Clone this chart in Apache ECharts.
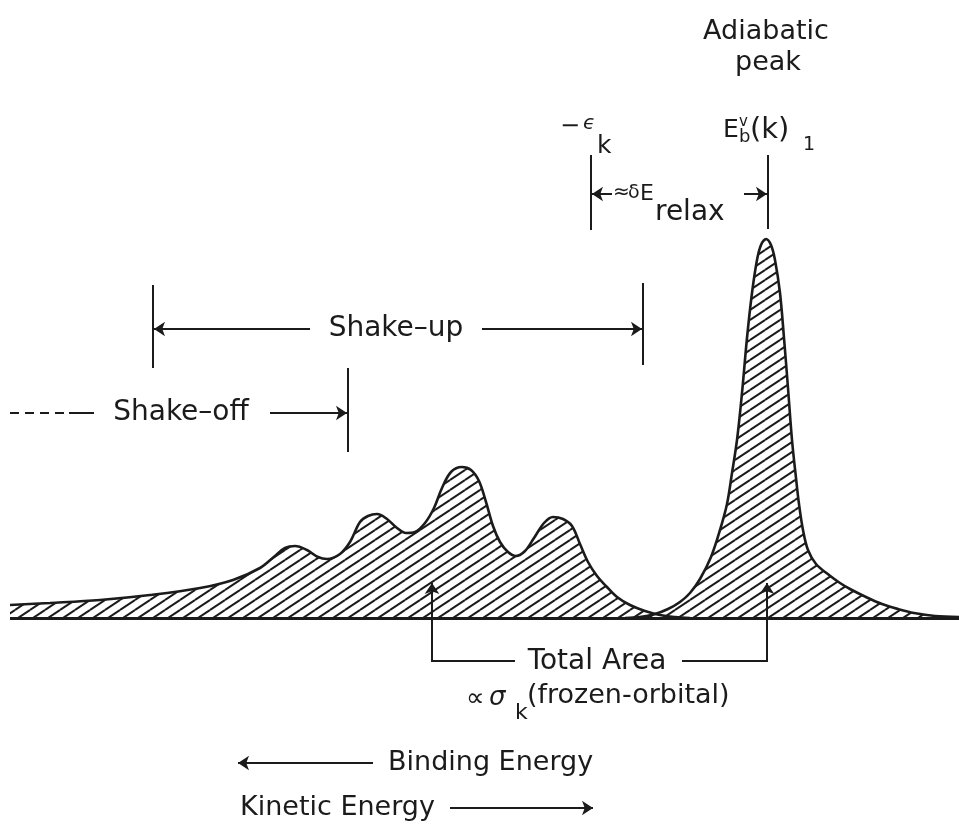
<!DOCTYPE html>
<html>
<head>
<meta charset="utf-8">
<script src="https://cdn.jsdelivr.net/npm/echarts@6/dist/echarts.min.js"></script>
<style>
  html, body { margin: 0; padding: 0; background: #ffffff; }
  #chart { width: 959px; height: 825px; }
</style>
</head>
<body>
<div id="chart"></div>
<script>
// Core-level photoemission line shape: shake-off tail + shake-up satellites,
// followed by the adiabatic (main) peak. Pairs are [energy position, intensity].
const satelliteEnvelope = [
  [10, 13], [50, 15], [100, 18], [150, 23], [200, 30], [233, 38], [260, 50],
  [275, 62], [285, 70], [295, 72], [307, 68], [318, 61], [327, 59], [340, 64],
  [350, 76], [360, 96], [368, 102], [377, 104], [387, 99], [397, 90], [406, 85],
  [415, 86], [425, 95], [434, 110], [442, 130], [451, 146], [462, 151], [471, 148],
  [479, 137], [486, 116], [493, 92], [500, 76], [508, 66], [516, 62], [525, 67],
  [534, 80], [544, 95], [553, 101], [563, 99], [572, 92], [580, 74], [588, 56],
  [597, 42], [606, 32], [617, 21], [630, 13], [645, 7], [660, 3], [675, 1], [690, 0]
];

const adiabaticPeak = [
  [625, 0], [640, 1], [655, 4], [668, 9], [680, 16], [690, 25], [700, 39],
  [711, 61], [720, 88], [727, 114], [732, 145], [737, 178], [742, 225], [747, 280],
  [752, 325], [757, 358], [761, 373], [766, 379], [771, 373], [775, 358], [780, 325],
  [784, 280], [788, 230], [792, 178], [796, 140], [799, 114], [803, 88], [808, 68],
  [816, 54], [829, 43], [840, 35], [850, 29], [866, 21], [882, 14], [898, 9],
  [914, 5], [935, 2], [959, 1]
];

// Energy positions of the marked features
const epsK = 591;          // -eps_k (frozen-orbital energy)
const adiabaticE = 768;    // E_b^v(k)_1
const shakeUpStart = 153;
const shakeUpEnd = 643;
const shakeOffEnd = 348;
const satelliteArrowE = 432;

// Plain segments: dimension ticks, bracket legs, the solid part of the shake-off lead
const plainSegments = [
  [[epsK, 463], [epsK, 388]],
  [[adiabaticE, 463], [adiabaticE, 389]],
  [[shakeUpStart, 333], [shakeUpStart, 250]],
  [[shakeUpEnd, 335], [shakeUpEnd, 253]],
  [[shakeOffEnd, 250], [shakeOffEnd, 166]],
  [[515, -43], [satelliteArrowE, -43]],
  [[682, -43], [adiabaticE - 1, -43]],
  [[69, 205], [94, 205]]
];

// Arrows (arrowhead on the second point)
const arrows = [
  [[612, 424], [epsK + 1, 424]],
  [[744, 424], [adiabaticE - 1, 424]],
  [[310, 289], [shakeUpStart + 1, 289]],
  [[482, 289], [shakeUpEnd - 1, 289]],
  [[270, 205], [shakeOffEnd - 1, 205]],
  [[satelliteArrowE, -44], [satelliteArrowE, 35]],
  [[adiabaticE - 1, -44], [adiabaticE - 1, 35]],
  [[373, -145], [238, -145]],
  [[450, -190], [593, -190]]
];

const dashedSegments = [
  [[10, 205], [66, 205]]
];

const FONT = '"DejaVu Sans", "Noto Sans", sans-serif';
const INK = '#1b1b1b';

// Annotation text: position, content, size
const labels = [
  { x: 766, y: 586, text: 'Adiabatic', size: 27 },
  { x: 768, y: 555, text: 'peak', size: 27 },
  { x: 560, y: 491, text: '\u2212', size: 24, align: 'left' },
  { x: 583, y: 494, text: '\u03f5', size: 20, align: 'left', italic: true },
  { x: 597, y: 472, text: 'k', size: 25, align: 'left' },
  { x: 723, y: 488, text: 'E', size: 25, align: 'left' },
  { x: 739, y: 496, text: 'v', size: 15, align: 'left' },
  { x: 739, y: 481, text: 'b', size: 18, align: 'left' },
  { x: 750, y: 488, text: '(k)', size: 29, align: 'left' },
  { x: 803, y: 473, text: '1', size: 19, align: 'left' },
  { x: 613, y: 425, text: '\u2248', size: 20, align: 'left' },
  { x: 628, y: 425, text: '\u03b4', size: 19, align: 'left' },
  { x: 640, y: 424, text: 'E', size: 22, align: 'left' },
  { x: 655, y: 405, text: 'relax', size: 28, align: 'left' },
  { x: 396, y: 289, text: 'Shake\u2013up', size: 28 },
  { x: 181, y: 205, text: 'Shake\u2013off', size: 28 },
  { x: 597, y: -44, text: 'Total Area', size: 28 },
  { x: 466, y: -81, text: '\u221d', size: 26, align: 'left' },
  { x: 489, y: -80, text: '\u03c3', size: 26, align: 'left', italic: true },
  { x: 515, y: -95, text: 'k', size: 22, align: 'left' },
  { x: 527, y: -78, text: '(frozen-orbital)', size: 27, align: 'left' },
  { x: 388, y: -145, text: 'Binding Energy', size: 27, align: 'left' },
  { x: 240, y: -190, text: 'Kinetic Energy', size: 27, align: 'left' }
];

// Diagonal hatching used to fill the spectrum area
function makeHatch() {
  const w = 15, h = 10;
  const c = document.createElement('canvas');
  c.width = w; c.height = h;
  const g = c.getContext('2d');
  g.strokeStyle = INK;
  g.lineWidth = 2;
  for (let i = -1; i <= 1; i++) {
    for (let j = -1; j <= 1; j++) {
      g.beginPath();
      g.moveTo(i * w, h + j * h);
      g.lineTo(w + i * w, j * h);
      g.stroke();
    }
  }
  return c;
}
const hatch = { image: makeHatch(), repeat: 'repeat' };

const chart = echarts.init(document.getElementById('chart'), null, { renderer: 'canvas' });

const toLines = segs => segs.map(s => ({ coords: s }));

chart.setOption({
  animation: false,
  backgroundColor: '#ffffff',
  grid: { left: 0, right: 0, top: 0, bottom: 0 },
  xAxis: { type: 'value', min: 0, max: 959, show: false },
  yAxis: { type: 'value', min: -207, max: 618, show: false },
  series: [
    {
      name: 'Shake-up / shake-off',
      type: 'line',
      data: satelliteEnvelope,
      smooth: 0.35,
      symbol: 'none',
      lineStyle: { color: INK, width: 2.6 },
      areaStyle: { color: hatch, opacity: 1 },
      z: 2
    },
    {
      name: 'Adiabatic peak',
      type: 'line',
      data: adiabaticPeak,
      smooth: 0.35,
      symbol: 'none',
      lineStyle: { color: INK, width: 2.6 },
      areaStyle: { color: hatch, opacity: 1 },
      z: 2
    },
    {
      name: 'Baseline',
      type: 'lines',
      coordinateSystem: 'cartesian2d',
      data: toLines([[[10, 0], [959, 0]]]),
      lineStyle: { color: INK, width: 3, opacity: 1 },
      symbol: 'none',
      z: 3
    },
    {
      name: 'Segments',
      type: 'lines',
      coordinateSystem: 'cartesian2d',
      data: toLines(plainSegments),
      lineStyle: { color: INK, width: 2, opacity: 1 },
      symbol: 'none',
      z: 3
    },
    {
      name: 'Dashed',
      type: 'lines',
      coordinateSystem: 'cartesian2d',
      data: toLines(dashedSegments),
      lineStyle: { color: INK, width: 2, type: [9, 6], opacity: 1 },
      symbol: 'none',
      z: 3
    },
    {
      name: 'Arrows',
      type: 'lines',
      coordinateSystem: 'cartesian2d',
      data: toLines(arrows),
      lineStyle: { color: INK, width: 2, opacity: 1 },
      itemStyle: { color: INK },
      symbol: ['none', 'arrow'],
      symbolSize: 11,
      z: 3
    },
    {
      name: 'Labels',
      type: 'custom',
      coordinateSystem: 'cartesian2d',
      clip: false,
      data: labels.map(t => [t.x, t.y]),
      renderItem(params, api) {
        const t = labels[params.dataIndex];
        const p = api.coord([api.value(0), api.value(1)]);
        return {
          type: 'text',
          x: p[0],
          y: p[1],
          style: {
            text: t.text,
            fontSize: t.size,
            fontFamily: FONT,
            fontStyle: t.italic ? 'italic' : 'normal',
            fill: INK,
            align: t.align || 'center',
            verticalAlign: 'middle'
          }
        };
      },
      z: 4
    }
  ]
});
</script>
</body>
</html>
